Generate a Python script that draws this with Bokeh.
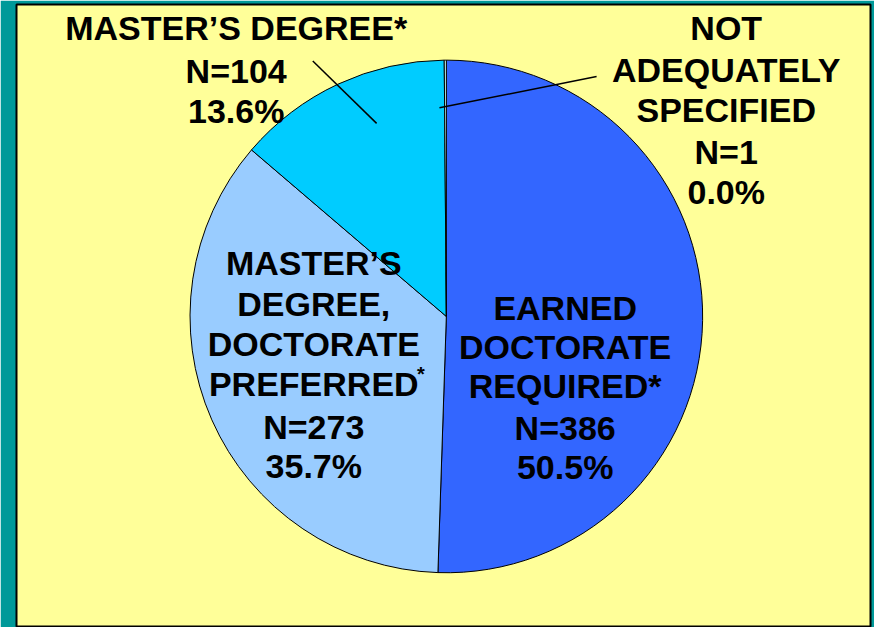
import numpy as np
from bokeh.plotting import figure
from bokeh.models import Range1d, ColumnDataSource
from bokeh.core.properties import value
from bokeh.embed import file_html
from bokeh.resources import INLINE

# ---- data ----
categories = [
    "EARNED\nDOCTORATE\nREQUIRED*",
    "MASTER\u2019S\nDEGREE,\nDOCTORATE\nPREFERRED",
    "MASTER\u2019S DEGREE*",
    "NOT\nADEQUATELY\nSPECIFIED",
]
counts = [386, 273, 104, 1]
pct_labels = ["50.5%", "35.7%", "13.6%", "0.0%"]
superscript_star = [False, True, False, False]

# ---- styles / layout ----
colors = ["#3366FF", "#99CCFF", "#00CCFF", "#CCFFFF"]
YELLOW = "#FFFF99"
TEAL = "#009999"
FONT = value("Liberation Sans")
FS = 34
W, H = 874, 627
REF_W, REF_H = 890, 643
BL, BR, BT, BB = 16, 4, 4, 0

# data coordinates = reference pixel coordinates (y flipped)
x0 = BL * REF_W / W
x1 = (W - BR) * REF_W / W
ytop = REF_H - BT * REF_H / H


def Y(ypx):
    return REF_H - ypx


# label anchor: centre x and cap-centre y of each line (reference pixels)
label_cx = [575, 319, 240, 739]
label_lines_y = [
    [315, 355, 395, 438, 478],
    [269, 311, 352, 393, 437, 477],
    [28, 72, 113],
    [28, 71, 112, 155, 196],
]

p = figure(width=W, height=H,
           x_range=Range1d(x0, x1), y_range=Range1d(0, ytop),
           output_backend="svg", toolbar_location=None,
           x_axis_location=None, y_axis_location=None,
           min_border_left=BL, min_border_right=BR,
           min_border_top=BT, min_border_bottom=BB,
           background_fill_color=YELLOW, border_fill_color=TEAL,
           outline_line_color="black", outline_line_width=2)
p.xgrid.visible = False
p.ygrid.visible = False

# ---- pie wedges (clockwise from 12 o'clock) ----
total = float(sum(counts))
frac = np.array(counts) / total
cum = np.concatenate([[0.0], np.cumsum(frac)])
start = np.pi / 2 - cum[:-1] * 2 * np.pi
end = np.pi / 2 - cum[1:] * 2 * np.pi

cx, cy, r = 454, Y(324), 261
src = ColumnDataSource(dict(start=start, end=end, color=colors,
                            x=[cx] * 4, y=[cy] * 4))
p.wedge(x="x", y="y", radius=r, start_angle="start", end_angle="end",
        direction="clock", fill_color="color", line_color="black",
        line_width=1, source=src)

# ---- leader lines ----
p.segment(x0=[318, 607], y0=[Y(62), Y(78)],
          x1=[383, 447], y1=[Y(126), Y(110)],
          line_color="black", line_width=1.5)

# ---- labels ----
tx, ty, tt = [], [], []
for i, name in enumerate(categories):
    lines = name.split("\n") + [f"N={counts[i]}", pct_labels[i]]
    for line, yc in zip(lines, label_lines_y[i]):
        tx.append(label_cx[i])
        ty.append(Y(yc))
        tt.append(line)
p.text(x="x", y="y", text="text", source=ColumnDataSource(dict(x=tx, y=ty, text=tt)),
       text_font=FONT, text_font_style="bold", text_font_size=f"{FS}px",
       text_align="center", text_baseline="alphabetic", text_color="black")

# superscript asterisk after PREFERRED
for i, s in enumerate(superscript_star):
    if s:
        p.text(x=[428], y=[Y(383)], text=["*"],
               text_font=FONT, text_font_style="bold", text_font_size="20px",
               text_align="center", text_baseline="middle", text_color="black")

open("out.html", "w").write(file_html(p, INLINE))
